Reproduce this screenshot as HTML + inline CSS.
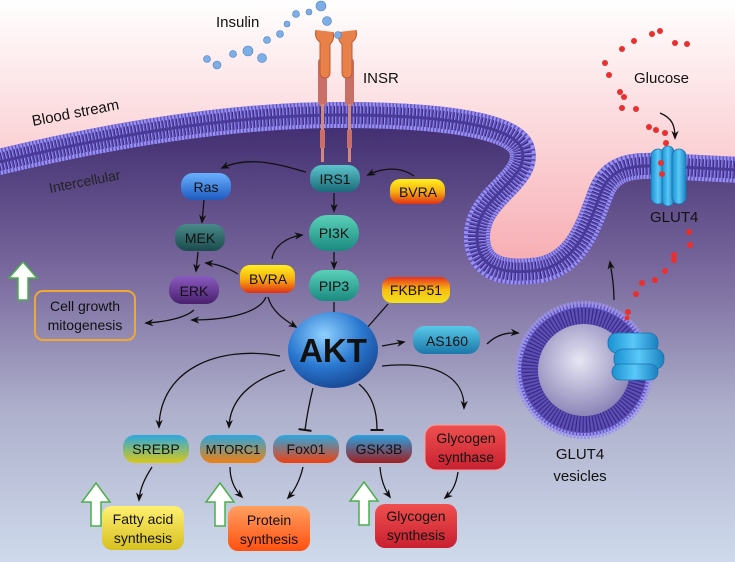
<!DOCTYPE html>
<html><head><meta charset="utf-8"><style>
html,body{margin:0;padding:0;width:735px;height:562px;overflow:hidden;background:#fff}
svg{display:block}
text{font-family:"Liberation Sans",sans-serif}
</style></head><body>
<svg width="735" height="562" viewBox="0 0 735 562" xmlns="http://www.w3.org/2000/svg">
<defs>
<linearGradient id="sky" x1="0" y1="0" x2="0" y2="1"><stop offset="0" stop-color="#ffffff"/><stop offset="0.2" stop-color="#fcdde0"/><stop offset="0.5" stop-color="#f6a8ae"/><stop offset="1" stop-color="#f49aa2"/></linearGradient>
<linearGradient id="cell" x1="0" y1="0" x2="0" y2="1"><stop offset="0" stop-color="#3e2a6e"/><stop offset="0.35" stop-color="#7a6a9e"/><stop offset="0.65" stop-color="#aeb0cc"/><stop offset="1" stop-color="#d0dced"/></linearGradient>
<radialGradient id="ves" cx="0.45" cy="0.4" r="0.6"><stop offset="0" stop-color="#e6e6f4"/><stop offset="1" stop-color="#8c86b8"/></radialGradient>
<radialGradient id="akt" cx="0.4" cy="0.3" r="0.7"><stop offset="0" stop-color="#8fd0ff"/><stop offset="0.6" stop-color="#2a78d0"/><stop offset="1" stop-color="#1a4c9a"/></radialGradient>
<linearGradient id="gTeal" x1="0" y1="0" x2="0" y2="1"><stop offset="0" stop-color="#5cc4cc"/><stop offset="1" stop-color="#1a6a78"/></linearGradient>
<linearGradient id="gBlue" x1="0" y1="0" x2="0" y2="1"><stop offset="0" stop-color="#6ab0ff"/><stop offset="1" stop-color="#1e5ac0"/></linearGradient>
<linearGradient id="gMek" x1="0" y1="0" x2="0" y2="1"><stop offset="0" stop-color="#4a8a8a"/><stop offset="1" stop-color="#1a4a4c"/></linearGradient>
<linearGradient id="gErk" x1="0" y1="0" x2="0" y2="1"><stop offset="0" stop-color="#8a5ac0"/><stop offset="1" stop-color="#48206e"/></linearGradient>
<linearGradient id="gGreen" x1="0" y1="0" x2="0" y2="1"><stop offset="0" stop-color="#5ad0b8"/><stop offset="1" stop-color="#1a8a80"/></linearGradient>
<linearGradient id="gYel" x1="0" y1="0" x2="0" y2="1"><stop offset="0" stop-color="#fff020"/><stop offset="0.5" stop-color="#f8b010"/><stop offset="1" stop-color="#e03018"/></linearGradient>
<linearGradient id="gFk" x1="0" y1="0" x2="0" y2="1"><stop offset="0" stop-color="#e83020"/><stop offset="0.5" stop-color="#f8c010"/><stop offset="1" stop-color="#f0e020"/></linearGradient>
<linearGradient id="gAs" x1="0" y1="0" x2="0" y2="1"><stop offset="0" stop-color="#5ac8e8"/><stop offset="1" stop-color="#1a78a8"/></linearGradient>
<linearGradient id="gSre" x1="0" y1="0" x2="0" y2="1"><stop offset="0" stop-color="#2aa8e0"/><stop offset="1" stop-color="#d8c818"/></linearGradient>
<linearGradient id="gMt" x1="0" y1="0" x2="0" y2="1"><stop offset="0" stop-color="#2aa8e0"/><stop offset="1" stop-color="#f08010"/></linearGradient>
<linearGradient id="gFox" x1="0" y1="0" x2="0" y2="1"><stop offset="0" stop-color="#2aa8e0"/><stop offset="1" stop-color="#f04010"/></linearGradient>
<linearGradient id="gGsk" x1="0" y1="0" x2="0" y2="1"><stop offset="0" stop-color="#2aa0e0"/><stop offset="1" stop-color="#a02020"/></linearGradient>
<linearGradient id="gRed" x1="0" y1="0" x2="0" y2="1"><stop offset="0" stop-color="#f05050"/><stop offset="1" stop-color="#c82030"/></linearGradient>
<linearGradient id="gFat" x1="0" y1="0" x2="0" y2="1"><stop offset="0" stop-color="#fff070"/><stop offset="1" stop-color="#d8c020"/></linearGradient>
<linearGradient id="gPro" x1="0" y1="0" x2="0" y2="1"><stop offset="0" stop-color="#ffa060"/><stop offset="1" stop-color="#ff5010"/></linearGradient>
<linearGradient id="gGlut" x1="0" y1="0" x2="1" y2="0"><stop offset="0" stop-color="#1a90d0"/><stop offset="0.5" stop-color="#5ac8f8"/><stop offset="1" stop-color="#1a80c0"/></linearGradient>
<marker id="ar" viewBox="0 0 10 10" refX="8" refY="5" markerWidth="7" markerHeight="7" orient="auto"><path d="M0,1 L10,5 L0,9 L3,5 Z" fill="#111"/></marker>
<marker id="tb" viewBox="0 0 10 10" refX="5" refY="5" markerWidth="10" markerHeight="10" orient="auto"><path d="M5,0 L5,10" stroke="#111" stroke-width="1.5"/></marker>
</defs>

<rect width="735" height="562" fill="url(#sky)"/>
<!-- cell interior -->
<path d="M-5,163 C90,140 220,115 340,115 C440,115 515,125 522,150 C530,180 478,195 477,235 C476,270 505,275 540,270 C580,262 590,220 602,190 C612,168 630,165 660,166 L740,170 L740,570 L-5,570 Z" fill="url(#cell)"/>
<!-- membrane -->
<g fill="none">
<path id="mem" d="M-5,163 C90,140 220,115 340,115 C440,115 515,125 522,150 C530,180 478,195 477,235 C476,270 505,275 540,270 C580,262 590,220 602,190 C612,168 630,165 660,166 L740,170" stroke="#5c50b8" stroke-width="26"/>
<path d="M-5,163 C90,140 220,115 340,115 C440,115 515,125 522,150 C530,180 478,195 477,235 C476,270 505,275 540,270 C580,262 590,220 602,190 C612,168 630,165 660,166 L740,170" stroke="#9a90f0" stroke-width="26" stroke-dasharray="2.2 1.3"/>
<path d="M-5,163 C90,140 220,115 340,115 C440,115 515,125 522,150 C530,180 478,195 477,235 C476,270 505,275 540,270 C580,262 590,220 602,190 C612,168 630,165 660,166 L740,170" stroke="#3a2a80" stroke-width="18" stroke-dasharray="1.2 2.3"/>
<path d="M-5,163 C90,140 220,115 340,115 C440,115 515,125 522,150 C530,180 478,195 477,235 C476,270 505,275 540,270 C580,262 590,220 602,190 C612,168 630,165 660,166 L740,170" stroke="#4a3a98" stroke-width="3"/>
</g>
<!-- vesicle -->
<circle cx="584" cy="370" r="66" fill="#5c50b8"/>
<circle cx="584" cy="370" r="66" fill="none" stroke="#9a90f0" stroke-width="6" stroke-dasharray="2.2 1.3"/>
<circle cx="584" cy="370" r="54" fill="none" stroke="#3a2a80" stroke-width="16" stroke-dasharray="1.2 2.2"/>
<circle cx="584" cy="370" r="46" fill="url(#ves)"/>
<!-- GLUT4 in vesicle -->
<g fill="url(#gGlut)" stroke="#1a70b0" stroke-width="0.8">
<rect x="608" y="333" width="50" height="20" rx="9"/>
<rect x="614" y="349" width="50" height="20" rx="9"/>
<rect x="612" y="364" width="46" height="16" rx="8"/>
</g>
<!-- GLUT4 membrane -->
<g fill="url(#gGlut)" stroke="#1a70b0" stroke-width="0.8">
<rect x="651" y="149" width="14" height="55" rx="7"/>
<rect x="662" y="146" width="12" height="60" rx="6"/>
<rect x="672" y="149" width="14" height="55" rx="7"/>
</g>
<!-- INSR -->
<g>
<rect x="318" y="58" width="9" height="48" rx="4" fill="#c87068"/>
<rect x="345" y="58" width="9" height="48" rx="4" fill="#c87068"/>
<path d="M316,30 q-2,8 4,12 v30 q0,6 5,6 q5,0 5,-6 v-28 q5,-4 3,-12" fill="#e8804a" stroke="#c05a30" stroke-width="1"/>
<path d="M356,30 q2,8 -4,12 v30 q0,6 -5,6 q-5,0 -5,-6 v-28 q-5,-4 -3,-12" fill="#e8804a" stroke="#c05a30" stroke-width="1"/>
<rect x="321" y="104" width="3" height="58" fill="#d08880"/>
<rect x="348" y="104" width="3" height="58" fill="#d08880"/>
<rect x="320" y="130" width="5" height="18" fill="#c87068"/>
<rect x="347" y="130" width="5" height="18" fill="#c87068"/>
</g>
<!-- insulin -->
<g fill="#7eaee6" stroke="#4a7ec0" stroke-width="0.6">
<circle cx="207" cy="59" r="3.5"/><circle cx="217" cy="65" r="4"/><circle cx="233" cy="54" r="3.5"/><circle cx="248" cy="51" r="5"/><circle cx="262" cy="58" r="4.5"/><circle cx="267" cy="40" r="3.5"/><circle cx="280" cy="34" r="3.5"/><circle cx="287" cy="24" r="3"/><circle cx="296" cy="14" r="3.5"/><circle cx="309" cy="12" r="3"/><circle cx="321" cy="6" r="5"/><circle cx="327" cy="21" r="4.5"/><circle cx="338" cy="35" r="3.5"/>
</g>
<!-- glucose -->
<g fill="#e83030">
<circle cx="605" cy="63" r="3"/><circle cx="609" cy="75" r="3"/><circle cx="622" cy="49" r="3"/><circle cx="634" cy="41" r="3"/><circle cx="652" cy="34" r="3"/><circle cx="660" cy="31" r="3"/><circle cx="675" cy="43" r="3"/><circle cx="687" cy="44" r="3"/><circle cx="620" cy="92" r="3"/><circle cx="624" cy="97" r="3"/><circle cx="622" cy="108" r="3"/><circle cx="636" cy="109" r="3"/><circle cx="649" cy="127" r="3"/><circle cx="656" cy="130" r="3"/><circle cx="665" cy="133" r="3"/><circle cx="666" cy="143" r="3"/><circle cx="661" cy="163" r="3"/><circle cx="662" cy="174" r="3"/><circle cx="689" cy="232" r="3"/><circle cx="690" cy="245" r="3"/><circle cx="674" cy="255" r="3"/><circle cx="674" cy="260" r="3"/><circle cx="665" cy="271" r="3"/><circle cx="655" cy="280" r="3"/><circle cx="642" cy="283" r="3"/><circle cx="636" cy="294" r="3"/><circle cx="628" cy="312" r="3"/><circle cx="627" cy="318" r="2.5"/>
</g>

<!-- labels -->
<g fill="#111" font-size="15">
<text x="216" y="27">Insulin</text>
<text x="363" y="83">INSR</text>
<text x="634" y="83">Glucose</text>
<text x="650" y="222">GLUT4</text>
<text transform="translate(33,126) rotate(-11)">Blood stream</text>
<text transform="translate(50,193) rotate(-11)" font-size="14" fill="#222">Intercellular</text>
<text x="580" y="459" text-anchor="middle">GLUT4</text>
<text x="580" y="481" text-anchor="middle">vesicles</text>
</g>

<!-- arrows -->
<g fill="none" stroke="#111" stroke-width="1.3">
<path d="M306,172 C280,165 250,155 222,168" marker-end="url(#ar)"/>
<path d="M414,176 C400,166 382,168 368,175" marker-end="url(#ar)"/>
<path d="M334,193 L334,211" marker-end="url(#ar)"/>
<path d="M204,200 L202,222" marker-end="url(#ar)"/>
<path d="M334,252 L334,268" marker-end="url(#ar)"/>
<path d="M198,252 L196,271" marker-end="url(#ar)"/>
<path d="M238,274 C228,268 218,264 206,263" marker-end="url(#ar)"/>
<path d="M272,259 C274,245 288,237 302,235" marker-end="url(#ar)"/>
<path d="M266,297 C260,312 230,320 192,320" marker-end="url(#ar)"/>
<path d="M268,297 C272,312 285,320 296,327" marker-end="url(#ar)"/>
<path d="M194,310 C185,318 165,322 146,323" marker-end="url(#ar)"/>
<path d="M334,302 L334,320" marker-end="url(#ar)"/>
<path d="M388,304 L366,329" marker-end="url(#tb)"/>
<path d="M382,346 L404,342" marker-end="url(#ar)"/>
<path d="M487,344 C495,336 505,332 518,333" marker-end="url(#ar)"/>
<path d="M614,300 C614,285 612,275 610,262" marker-end="url(#ar)"/>
<path d="M660,113 C672,118 675,125 675,138" marker-end="url(#ar)"/>
<path d="M280,356 C220,345 160,368 159,427" marker-end="url(#ar)"/>
<path d="M285,370 C250,380 230,400 229,427" marker-end="url(#ar)"/>
<path d="M313,388 C310,400 307,415 305,430" marker-end="url(#tb)"/>
<path d="M359,384 C372,395 377,410 377,430" marker-end="url(#tb)"/>
<path d="M382,366 C440,360 465,380 464,408" marker-end="url(#ar)"/>
<path d="M152,467 C145,478 140,488 139,500" marker-end="url(#ar)"/>
<path d="M230,467 C230,480 235,490 242,497" marker-end="url(#ar)"/>
<path d="M303,467 C300,480 295,490 288,498" marker-end="url(#ar)"/>
<path d="M380,467 C381,480 385,490 390,497" marker-end="url(#ar)"/>
<path d="M458,472 C456,485 452,492 445,498" marker-end="url(#ar)"/>
</g>

<!-- green up arrows -->
<g fill="#fff" stroke="#4ab04a" stroke-width="1.5">
<path d="M18,300 v-22 h-9 l14,-16 l14,16 h-9 v22 z"/>
<path d="M91,526 v-24 h-9 l14,-19 l14,19 h-9 v24 z"/>
<path d="M215,526 v-24 h-9 l14,-19 l14,19 h-9 v24 z"/>
<path d="M359,525 v-24 h-9 l14,-19 l14,19 h-9 v24 z"/>
</g>

<!-- nodes -->
<g stroke="none">
<rect x="35" y="291" width="100" height="49" rx="8" fill="none" stroke="#f0a830" stroke-width="2"/>
<rect x="310" y="165" width="50" height="27" rx="12" fill="url(#gTeal)"/>
<rect x="181" y="173" width="50" height="27" rx="12" fill="url(#gBlue)"/>
<rect x="390" y="179" width="55" height="25" rx="10" fill="url(#gYel)"/>
<rect x="309" y="215" width="50" height="36" rx="18" fill="url(#gGreen)"/>
<rect x="175" y="224" width="50" height="27" rx="12" fill="url(#gMek)"/>
<rect x="240" y="265" width="55" height="28" rx="10" fill="url(#gYel)"/>
<rect x="309" y="270" width="50" height="31" rx="15" fill="url(#gGreen)"/>
<rect x="382" y="277" width="68" height="26" rx="10" fill="url(#gFk)"/>
<rect x="169" y="276" width="50" height="28" rx="13" fill="url(#gErk)"/>
<ellipse cx="333" cy="350" rx="45" ry="38" fill="url(#akt)"/>
<rect x="413" y="326" width="67" height="28" rx="12" fill="url(#gAs)"/>
<rect x="123" y="435" width="66" height="28" rx="12" fill="url(#gSre)"/>
<rect x="200" y="435" width="66" height="28" rx="12" fill="url(#gMt)"/>
<rect x="273" y="435" width="66" height="28" rx="12" fill="url(#gFox)"/>
<rect x="346" y="435" width="66" height="28" rx="12" fill="url(#gGsk)"/>
<rect x="425" y="425" width="81" height="45" rx="11" fill="url(#gRed)" stroke="#f8a0a0" stroke-width="1"/>
<rect x="102" y="506" width="82" height="44" rx="10" fill="url(#gFat)"/>
<rect x="228" y="506" width="82" height="45" rx="10" fill="url(#gPro)"/>
<rect x="375" y="504" width="82" height="44" rx="10" fill="url(#gRed)"/>
</g>
<g fill="#111" font-size="14" text-anchor="middle">
<text x="85" y="311">Cell growth</text>
<text x="85" y="330">mitogenesis</text>
<text x="335" y="184">IRS1</text>
<text x="206" y="192">Ras</text>
<text x="418" y="197">BVRA</text>
<text x="334" y="238">PI3K</text>
<text x="200" y="243">MEK</text>
<text x="268" y="284">BVRA</text>
<text x="334" y="291">PIP3</text>
<text x="416" y="295">FKBP51</text>
<text x="194" y="296">ERK</text>
<text x="333" y="362" font-size="33" font-weight="bold">AKT</text>
<text x="447" y="346">AS160</text>
<text x="156" y="454">SREBP</text>
<text x="233" y="454" font-size="13">MTORC1</text>
<text x="306" y="454">Fox01</text>
<text x="379" y="454">GSK3B</text>
<text x="466" y="443">Glycogen</text>
<text x="466" y="462">synthase</text>
<text x="143" y="524">Fatty acid</text>
<text x="143" y="543">synthesis</text>
<text x="269" y="525">Protein</text>
<text x="269" y="544">synthesis</text>
<text x="416" y="521">Glycogen</text>
<text x="416" y="540">synthesis</text>
</g>
</svg>
</body></html>
